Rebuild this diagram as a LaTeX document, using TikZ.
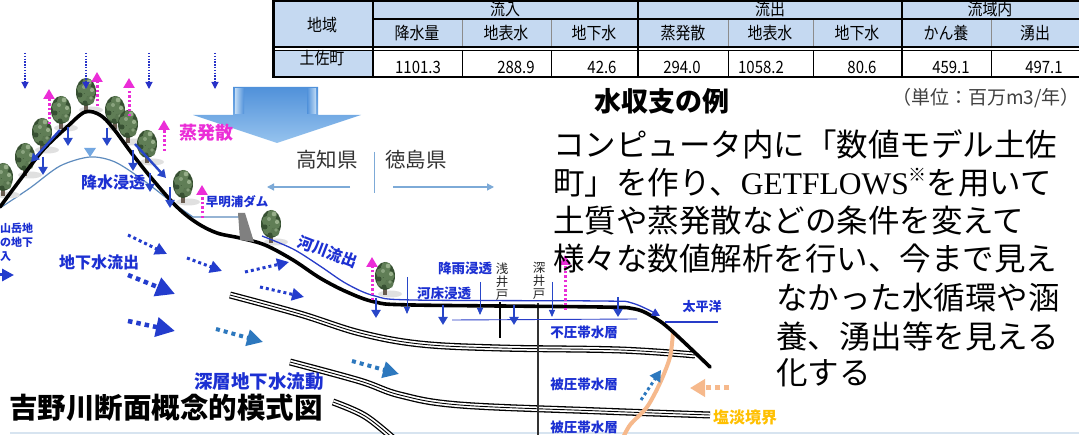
\documentclass[tikz,border=0pt]{standalone}
\usepackage{fontspec}
\setmainfont{Noto Sans CJK JP}
\newfontfamily\tblfont{Noto Sans CJK JP}[FakeStretch=0.88]
\newfontfamily\serifen{Liberation Serif}
\usetikzlibrary{arrows.meta}

\definecolor{hdr}{RGB}{197,217,241}
\definecolor{lblue}{RGB}{28,48,210}
\definecolor{arrblue}{RGB}{40,70,200}
\definecolor{rainblue}{RGB}{40,50,200}
\definecolor{evpink}{RGB}{235,45,215}
\definecolor{gwblue}{RGB}{35,60,205}
\definecolor{gwsteel}{RGB}{45,120,190}
\definecolor{salt}{RGB}{246,185,140}
\definecolor{wtline}{RGB}{95,140,190}
\definecolor{prefarrow}{RGB}{125,170,215}
\definecolor{gold}{RGB}{255,192,0}
\definecolor{treeD}{RGB}{55,80,50}
\definecolor{treeM}{RGB}{96,126,86}
\definecolor{treeL}{RGB}{165,188,152}
\definecolor{trunk}{RGB}{105,92,80}
\definecolor{rulecol}{RGB}{215,228,240}
\definecolor{riverblue}{RGB}{40,60,200}
\definecolor{arrowtop}{RGB}{80,145,218}
\definecolor{arrowbot}{RGB}{150,195,238}

\tikzset{
  fs/.style={font=\fontsize{#1}{#1}\selectfont},
  lbl/.style={text=lblue, font=\bfseries\fontsize{#1}{#1}\selectfont, inner sep=0pt},
  rain/.style={draw=rainblue, line width=1.1pt, dash pattern=on 1.4pt off 1.4pt,
    -{Triangle[width=7pt,length=7pt]}},
  evap/.style={draw=evpink, line width=3pt, dash pattern=on 2.4pt off 2.2pt,
    -{Triangle[width=11pt,length=10pt]}},
  downarr/.style={draw=arrblue, line width=2.4pt, -{Triangle[width=9pt,length=8pt]}},
  thindown/.style={draw=arrblue, line width=0.9pt, -{Triangle[width=6pt,length=7pt]}},
  gwsmall/.style={draw=gwblue, line width=3pt, dash pattern=on 3pt off 3pt,
    -{Triangle[width=12pt,length=12pt]}},
  gwbig/.style={draw=gwblue, line width=4.5pt, dash pattern=on 4.5pt off 4pt,
    -{Triangle[width=19pt,length=19pt]}},
  gwsteel/.style={draw=gwsteel, line width=4pt, dash pattern=on 4pt off 4pt,
    -{Triangle[width=16pt,length=16pt]}},
  gwsteelsmall/.style={draw=gwsteel, line width=3pt, dash pattern=on 3pt off 3pt,
    -{Triangle[width=12pt,length=11pt]}},
  saltarr/.style={draw=salt, line width=5pt, dash pattern=on 5pt off 4pt,
    -{Triangle[width=17pt,length=15pt]}},
  layer/.style={preaction={draw=black, line width=7pt}, draw=white, line width=4.4pt,
    postaction={draw=black, line width=0.9pt}},
  prefarr/.style={draw=prefarrow, line width=1.3pt, -{Triangle[width=7pt,length=7pt]}},
  tree/.pic={
    \fill[black!12] (5,-1) ellipse (12 and 3.5);
    \fill[trunk] (-1.6,-9) rectangle (1.6,0);
    \fill[treeD] (0,-19) ellipse (10 and 14);
    \fill[treeM] (1,-28) circle (5);
    \fill[treeM] (-4,-22) circle (5);
    \fill[treeM] (4,-19) circle (5.5);
    \fill[treeM] (-3,-13) circle (5);
    \fill[treeM!85!treeD] (4,-11) circle (4.5);
    \fill[treeL, opacity=0.8] (3,-29) circle (2.3);
    \fill[treeL, opacity=0.8] (6,-21) circle (2.1);
    \fill[treeL!60!treeM] (-2,-24) circle (2);
    \fill[treeL!50!treeM] (5,-13) circle (1.9);
    \fill[treeD] (-6,-16) circle (2.5);
    \fill[treeD] (-1,-8) circle (2.5);
  },
  tcell/.style={font=\tblfont\fontsize{17}{17}\selectfont, inner sep=0pt},
}

\begin{document}
\begin{tikzpicture}[x=1pt,y=-1pt]
\useasboundingbox (0,0) rectangle (1079,435);
\fill[white] (0,0) rectangle (1079,435);

% light rule along the foot
\draw[rulecol, line width=2pt] (10,433) -- (1079,433);

% confining layers
\draw[layer] plot[smooth,tension=0.6] coordinates {(230,295) (300,314) (360,333) (420,344) (500,348) (620,350) (695,355)};
\draw[layer] plot[smooth,tension=0.6] coordinates {(290,362) (360,381) (400,395) (460,405) (600,411) (710,415)};
\draw[layer] plot[smooth,tension=0.6] coordinates {(333,402) (365,416) (395,440)};

% salt / fresh water boundary
\draw[salt, line width=4pt, line cap=round] plot[smooth] coordinates {(673,332) (670,357) (660,383) (647,407) (630,425) (622,440)};

% wells
\draw[black!80, line width=1.8pt] (538,303) -- (538,440);
\draw[black, line width=2.6pt] (500,302) -- (500,338);

% lowland water table
\draw[riverblue, line width=0.9pt] (452,320) -- (637,319);

% mountain water table and reservoir surface
\draw[wtline, line width=1.2pt] plot[smooth] coordinates {(0,208) (30,188) (60,166) (90,157) (115,162) (143,180) (173,203) (193,217)} -- (240,217);
\fill[arrowtop!80!white] (84,148) -- (96,148) -- (90,157) -- cycle;

% trees
\foreach \tx/\ty in {3/196, 25/176, 42/151, 61/129, 86/111, 115/129, 128/143, 147/163, 183/203, 271/243, 385/295}
  \pic at (\tx,\ty) {tree};

% ground surface
\draw[black, line width=3.6pt, line cap=round, line join=round] plot[smooth, tension=0.55] coordinates {(0,207) (20,180) (43,150) (67,127) (85,112) (100,115) (113,128) (133,155) (153,180) (177,207) (197,223) (217,233) (240,238) (265,245) (293,260) (320,278) (347,292) (375,302) (413,305) (600,307) (635,309) (655,318) (672,331) (710,367)};

% dam
\fill[black!50] (238,213) -- (245,213) -- (254,242) -- (240,240) -- cycle;

% river and sea
\draw[riverblue, line width=1.3pt, -{Triangle[width=8pt,length=8pt]}] plot[smooth, tension=0.55] coordinates {(262,236) (293,249) (320,266) (347,284) (375,296) (413,300) (600,301) (632,303) (660,316)};
\draw[riverblue, line width=2.2pt] (665,322) -- (718,322);

% rainfall
\foreach \rx in {25,86,149,215}
  \draw[rain] (\rx,53) -- (\rx,89);

% evapotranspiration
\draw[evap] (97,106) -- (97,72);
\draw[evap] (49,124) -- (49,89);
\draw[evap] (129,116) -- (129,78);
\draw[evap] (164,151) -- (164,120);
\draw[evap] (202,218) -- (202,185);
\draw[evap] (372,300) -- (372,257);
\draw[evap] (565,310) -- (565,255);

% infiltration on the slopes
\draw[downarr] (68,127) -- (68,146);
\draw[downarr] (107,128) -- (107,146);
\draw[downarr] (43,157) -- (43,175);
\draw[downarr] (60,130) -- (31,162);
\draw[downarr] (135,144) -- (166,178);
\draw[downarr] (133,150) -- (133,171);
\draw[downarr] (150,173) -- (150,192);
\draw[downarr] (170,187) -- (170,208);

% infiltration in the lowland
\draw[downarr] (376,298) -- (376,318);
\draw[downarr] (443,305) -- (443,325);
\draw[downarr] (514,305) -- (514,325);
\draw[downarr] (618,297) -- (618,317);
\draw[thindown] (407,277) -- (407,314);
\draw[thindown] (480,282) -- (480,315);
\draw[thindown] (552,282) -- (552,317);

% groundwater flows
\draw[gwsmall] (0,275) -- (14,275);
\draw[gwsmall] (128,235) -- (167,254);
\draw[gwsmall] (187,258) -- (222,271);
\draw[gwsmall] (245,272) -- (289,262);
\draw[gwsmall] (260,287) -- (304,297);
\draw[gwbig] (128,275) -- (175,294);
\draw[gwbig] (128,321) -- (175,331);
\draw[gwsteel] (216,329) -- (263,342);
\draw[gwsteel] (352,361) -- (399,374);
\draw[gwsteelsmall] (641,400) -- (661,370);
\draw[saltarr] (729,388) -- (690,388);

% big arrow
\shade[top color=arrowtop, bottom color=arrowbot] (233,87) -- (318,87) -- (318,115) -- (361,115) -- (277,143) -- (193,115) -- (233,115) -- cycle;
\shade[left color=white!40!arrowbot, right color=arrowtop] (235,89) rectangle (244,114);
\shade[left color=arrowtop, right color=white!40!arrowbot] (307,89) rectangle (316,114);

% prefecture boundary
\draw[prefarrow, line width=1pt] (374,152) -- (374,193);
\draw[prefarr] (350,187) -- (267,187);
\draw[prefarr] (393,187) -- (494,187);
\node[fs=20.5, text=black!80, inner sep=0pt] (kochi) at (327,160) {高知県};
\node[fs=20.5, text=black!80, inner sep=0pt] (tokushima) at (416,160) {徳島県};

% labels
\node[text=evpink, font=\bfseries\fontsize{18}{18}\selectfont, inner sep=0pt] (evlbl) at (206,133) {蒸発散};
\node[lbl=16] (rainperc) at (113,182) {降水浸透};
\node[lbl=12.5] (dam) at (237,202) {早明浦ダム};
\node[lbl=11, anchor=north west, align=left] (mtn) at (0,223) {山岳地\\[3pt]の地下\\[3pt]入};
\node[lbl=16] (gwout) at (99,262) {地下水流出};
\node[lbl=15.5, rotate=-21] (riverout) at (328,252) {河川流出};
\node[lbl=13.5] (rainfall) at (465,268) {降雨浸透};
\node[lbl=13.5] (bedperc) at (444,293) {河床浸透};
\node[lbl=13.5] (unconf) at (584,332) {不圧帯水層};
\node[lbl=13.5] (conf1) at (584,384) {被圧帯水層};
\node[lbl=13.5] (conf2) at (584,427) {被圧帯水層};
\node[lbl=13] (pacific) at (702,307) {太平洋};
\node[lbl=18.5] (deepflow) at (259,382) {深層地下水流動};
\node[text=gold, font=\bfseries\fontsize{16}{16}\selectfont, inner sep=0pt] (saltlbl) at (745,417) {塩淡境界};
\node[fs=12.5, text=black!85, align=center, inner sep=0pt] (shallow) at (502,282) {浅\\[0.5pt]井\\[0.5pt]戸};
\node[fs=12.5, text=black!85, align=center, inner sep=0pt] (deep) at (539,281) {深\\[0.5pt]井\\[0.5pt]戸};

\node[font=\bfseries\fontsize{28.5}{28.5}\selectfont, inner sep=0pt] (title) at (166,408) {吉野川断面概念的模式図};

% water balance table
\fill[hdr] (272,0) rectangle (1079,47);
\fill[hdr] (272,50) rectangle (373,78);
\draw[black!45, line width=0.6pt] (462,19) -- (462,47) (551,19) -- (551,47) (728,19) -- (728,47) (813,19) -- (813,47) (991,19) -- (991,47);
\draw[black, line width=0.8pt] (462,50) -- (462,78) (551,50) -- (551,78) (728,50) -- (728,78) (813,50) -- (813,78) (991,50) -- (991,78);
\draw[black, line width=1.2pt] (373,19) -- (1079,19);
\draw[black, line width=1.6pt] (373,0) -- (373,78) (638,0) -- (638,78) (902,0) -- (902,78);
\draw[black, line width=1.2pt] (272,47) -- (1079,47) (272,50.5) -- (1079,50.5);
\draw[black, line width=2pt] (272,1) -- (1079,1) (272,77.5) -- (1079,77.5);
\draw[black, line width=3pt] (273.5,0) -- (273.5,78);

\node[tcell] (area) at (322,25) {地域};
\node[tcell] (inflow) at (505,9) {流入};
\node[tcell] (outflow) at (770,9) {流出};
\node[tcell] (within) at (990,9) {流域内};
\node[tcell] (h1) at (417,33) {降水量};
\node[tcell] (h2) at (506,33) {地表水};
\node[tcell] (h3) at (594,33) {地下水};
\node[tcell] (h4) at (683,33) {蒸発散};
\node[tcell] (h5) at (770,33) {地表水};
\node[tcell] (h6) at (857,33) {地下水};
\node[tcell] (h7) at (946,33) {かん養};
\node[tcell] (h8) at (1035,33) {湧出};
\node[tcell] (tosa) at (322,58) {土佐町};
\node[tcell] (v1) at (418,67) {1101.3};
\node[tcell] (v2) at (516,67) {288.9};
\node[tcell] (v3) at (602,67) {42.6};
\node[tcell] (v4) at (682,67) {294.0};
\node[tcell] (v5) at (761,67) {1058.2};
\node[tcell] (v6) at (862,67) {80.6};
\node[tcell] (v7) at (951,67) {459.1};
\node[tcell] (v8) at (1044,67) {497.1};

\node[font=\bfseries\fontsize{27}{27}\selectfont, inner sep=0pt] (example) at (662,101) {水収支の例};
\node[fs=19, text=black!75, inner sep=0pt, anchor=east] (unit) at (1080,98) {（単位：百万m3/年）};

% description
\begin{scope}[every node/.style={fs=31.5, anchor=west, inner sep=0pt}]
\node (d1) at (553,144) {コンピュータ内に「数値モデル土佐};
\node (d2) at (553,183) {町」を作り、{\serifen GETFLOWS}\raisebox{0.42em}{\fontsize{18}{18}\selectfont ※}を用いて};
\node (d3) at (553,221) {土質や蒸発散などの条件を変えて};
\node (d4) at (553,259) {様々な数値解析を行い、今まで見え};
\node (d5) at (776,298) {なかった水循環や涵};
\node (d6) at (776,336) {養、湧出等を見える};
\node (d7) at (776,373) {化する};
\end{scope}
\end{tikzpicture}
\end{document}
